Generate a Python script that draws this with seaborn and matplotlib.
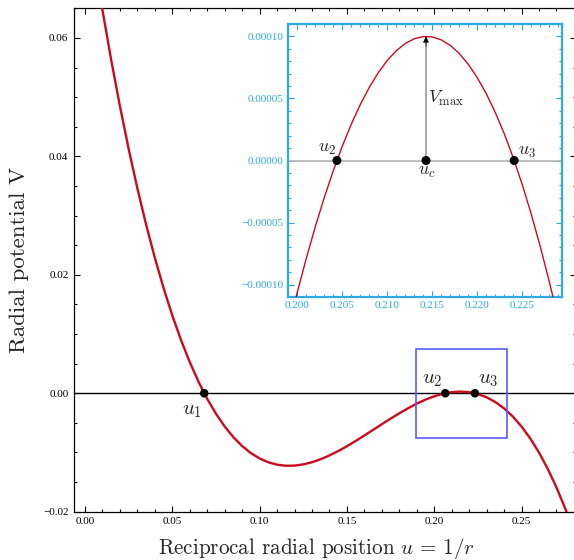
import matplotlib
matplotlib.use("Agg")
import matplotlib.pyplot as plt
import seaborn as sns
import pandas as pd
from matplotlib.ticker import MultipleLocator, FuncFormatter
from matplotlib.patches import Rectangle

# ---- main curve: radial potential V(u) ----
u_main = [0.005, 0.010, 0.015, 0.020, 0.025, 0.030, 0.035, 0.040, 0.045, 0.050,
          0.055, 0.060, 0.065, 0.0683, 0.070, 0.075, 0.080, 0.085, 0.090, 0.095,
          0.100, 0.105, 0.110, 0.115, 0.120, 0.125, 0.130, 0.135, 0.140, 0.145,
          0.150, 0.155, 0.160, 0.165, 0.170, 0.175, 0.180, 0.185, 0.190, 0.195,
          0.200, 0.205, 0.2063, 0.210, 0.215, 0.220, 0.2233, 0.225, 0.230, 0.235,
          0.240, 0.245, 0.250, 0.255, 0.260, 0.265, 0.270, 0.275, 0.280]
V_main = [0.073712, 0.064686, 0.056282, 0.048477, 0.041251, 0.034587, 0.028463,
          0.022859, 0.017756, 0.013133, 0.008973, 0.005252, 0.001954, 0.0,
          -0.000944, -0.003460, -0.005614, -0.007426, -0.008919, -0.010106,
          -0.011014, -0.011659, -0.012062, -0.012241, -0.012218, -0.012014,
          -0.011645, -0.011134, -0.010500, -0.009763, -0.008943, -0.008058,
          -0.007131, -0.006178, -0.005224, -0.004284, -0.003381, -0.002533,
          -0.001750, -0.001074, -0.000512, -0.000086, 0.0, 0.000185, 0.000281,
          0.000182, 0.0, -0.000132, -0.000680, -0.001483, -0.002561, -0.003932,
          -0.005618, -0.007638, -0.010012, -0.012759, -0.015901, -0.019455,
          -0.023443]

# roots marked on the main plot
root_names = ["$u_1$", "$u_2$", "$u_3$"]
root_u = [0.0683, 0.2063, 0.2233]
root_V = [0.0, 0.0, 0.0]

# zoom box shown on main plot
box_u = [0.1896, 0.2415]
box_V = [-0.0075, 0.0075]

# ---- inset curve (zoom near the maximum) ----
u_ins = [0.199, 0.200, 0.201, 0.202, 0.203, 0.204, 0.205, 0.206, 0.207, 0.208,
         0.209, 0.210, 0.211, 0.212, 0.213, 0.214, 0.215, 0.216, 0.217, 0.218,
         0.219, 0.220, 0.221, 0.222, 0.223, 0.224, 0.225, 0.226, 0.227, 0.228,
         0.229, 0.230]
V_ins = [-1.3531e-4, -1.0609e-4, -7.874e-5, -5.329e-5, -2.974e-5, -8.11e-6,
         1.159e-5, 2.934e-5, 4.514e-5, 5.897e-5, 7.082e-5, 8.068e-5, 8.853e-5,
         9.435e-5, 9.815e-5, 9.990e-5, 9.959e-5, 9.720e-5, 9.274e-5, 8.618e-5,
         7.751e-5, 6.671e-5, 5.379e-5, 3.871e-5, 2.147e-5, 2.06e-6, -1.954e-5,
         -4.333e-5, -6.934e-5, -9.757e-5, -1.2804e-4, -1.6076e-4]
ins_names = ["$u_2$", "$u_c$", "$u_3$"]
ins_u = [0.2044, 0.2143, 0.2241]
ins_V = [0.0, 0.0, 0.0]
V_max = 0.0001

RED = "#cc0a1e"
INSET_BLUE = "#2fa9e3"


def fmt(decimals):
    def f(x, pos):
        s = f"{x:.{decimals}f}"
        if float(s) == 0:
            s = s.lstrip("-")
        return s.replace("-", "\u2212")
    return FuncFormatter(f)


sns.set_style("ticks")
plt.rcParams["font.family"] = ["Liberation Serif", "DejaVu Serif"]
plt.rcParams["mathtext.fontset"] = "cm"
plt.rcParams["axes.unicode_minus"] = True

W, H = 574, 560
fig = plt.figure(figsize=(W / 100, H / 100), dpi=100)
fig.patch.set_facecolor("white")

# ---------------- main axes ----------------
ax = fig.add_axes([74 / W, 1 - 511.7 / H, (575.5 - 74) / W, (511.7 - 8.3) / H])
ax.set_facecolor("white")
ax.axhline(0, color="black", lw=1.0, zorder=1)

df_main = pd.DataFrame({"u": u_main, "V": V_main})
sns.lineplot(data=df_main, x="u", y="V", ax=ax, color=RED, lw=1.7,
             sort=False, zorder=3)
df_roots = pd.DataFrame({"u": root_u, "V": root_V})
sns.scatterplot(data=df_roots, x="u", y="V", ax=ax, color="black", s=38,
                edgecolor="none", zorder=5)

ax.add_patch(Rectangle((box_u[0], box_V[0]), box_u[1] - box_u[0],
                       box_V[1] - box_V[0], fill=False, edgecolor="#5b5bff",
                       lw=1.2, zorder=4))

# root labels
ax.text(root_u[0] - 0.0072, -0.0029, root_names[0], fontsize=15,
        ha="center", va="center")
ax.text(root_u[1] - 0.0072, 0.0023, root_names[1], fontsize=15,
        ha="center", va="center")
ax.text(root_u[2] + 0.0077, 0.0023, root_names[2], fontsize=15,
        ha="center", va="center")

ax.set_xlim(-0.0063, 0.2809)
ax.set_ylim(-0.02, 0.065)
ax.xaxis.set_major_locator(MultipleLocator(0.05))
ax.xaxis.set_minor_locator(MultipleLocator(0.01))
ax.yaxis.set_major_locator(MultipleLocator(0.02))
ax.yaxis.set_minor_locator(MultipleLocator(0.005))
ax.xaxis.set_major_formatter(fmt(2))
ax.yaxis.set_major_formatter(fmt(2))
ax.tick_params(which="both", direction="in", top=True, right=True,
               labelsize=8, width=0.8, colors="black")
ax.tick_params(which="major", length=4.5, pad=4)
ax.tick_params(which="minor", length=2.5)
for sp in ax.spines.values():
    sp.set_linewidth(0.9)
    sp.set_color("black")

ax.set_xlabel(r"Reciprocal radial position $u\,=\,1/r$", fontsize=15.2,
              fontfamily="cmr10", labelpad=5)
ax.xaxis.set_label_coords(0.4845, -0.048)
ax.xaxis.label.set_va("top")
ax.set_ylabel("Radial potential V", fontsize=16.5, fontfamily="cmr10",
              labelpad=10)

# ---------------- inset axes ----------------
axi = fig.add_axes([287.7 / W, 1 - 297 / H, 274 / W, 273 / H])
axi.set_facecolor("white")
axi.axhline(0, color="#b3b3b3", lw=1.2, zorder=1)
df_ins = pd.DataFrame({"u": u_ins, "V": V_ins})
sns.lineplot(data=df_ins, x="u", y="V", ax=axi, color=RED, lw=1.0,
             sort=False, zorder=3)
axi.annotate("", xy=(ins_u[1], V_max), xytext=(ins_u[1], 0.0),
             arrowprops=dict(arrowstyle="-", color="#888888", lw=1.0,
                             shrinkA=0, shrinkB=0),
             zorder=2)
axi.annotate("", xy=(ins_u[1], V_max), xytext=(ins_u[1], V_max - 0.000008),
             arrowprops=dict(arrowstyle="-|>", color="black", lw=0.5,
                             mutation_scale=9, shrinkA=0, shrinkB=0),
             zorder=2)
df_ins_pts = pd.DataFrame({"u": ins_u, "V": ins_V})
sns.scatterplot(data=df_ins_pts, x="u", y="V", ax=axi, color="black", s=42,
                edgecolor="none", zorder=5)

axi.text(0.20327, 0.0000094, ins_names[0], fontsize=13, ha="center", va="center")
axi.text(0.21444, -0.0000088, ins_names[1], fontsize=13, ha="center", va="center")
axi.text(0.22549, 0.0000072, ins_names[2], fontsize=13, ha="center", va="center")
axi.text(0.21455, 0.000050, r"$V_{\max}$", fontsize=13, ha="left", va="center")

axi.set_xlim(0.19893, 0.22938)
axi.set_ylim(-0.00011, 0.00011)
axi.xaxis.set_major_locator(MultipleLocator(0.005))
axi.xaxis.set_minor_locator(MultipleLocator(0.001))
axi.yaxis.set_major_locator(MultipleLocator(0.00005))
axi.yaxis.set_minor_locator(MultipleLocator(0.00001))
axi.xaxis.set_major_formatter(fmt(3))
axi.yaxis.set_major_formatter(fmt(5))
axi.tick_params(which="both", direction="in", top=True, right=True,
                labelsize=8, width=0.8, colors=INSET_BLUE,
                labelcolor=INSET_BLUE)
axi.tick_params(which="major", length=4, pad=3)
axi.tick_params(which="minor", length=2.2)
axi.set_xlabel("")
axi.set_ylabel("")
for sp in axi.spines.values():
    sp.set_linewidth(1.6)
    sp.set_color(INSET_BLUE)

fig.savefig("out.png", dpi=100, facecolor="white")
